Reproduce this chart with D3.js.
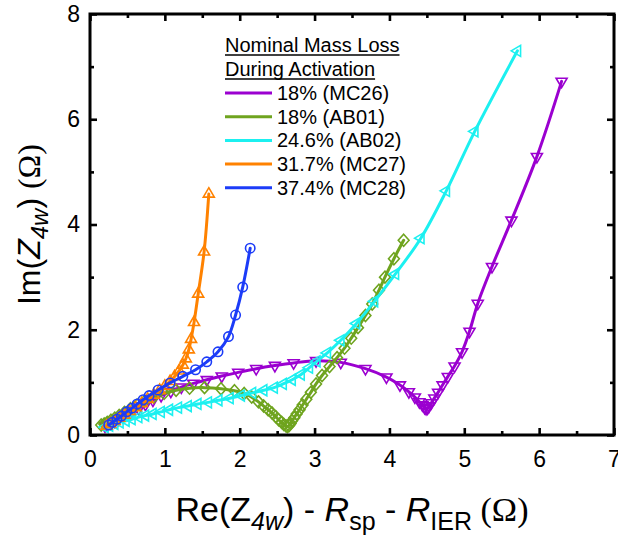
<!DOCTYPE html>
<html><head><meta charset="utf-8">
<script src="https://cdn.jsdelivr.net/npm/d3@7"></script>
<style>
body{margin:0;background:#fff}
svg{display:block}
text{font-family:"Liberation Sans",Arial,sans-serif;fill:#000}
</style>
</head><body>
<svg id="chart" width="618" height="539"></svg>
<script>
// ---------- data ----------
const seriesNames = ["18% (MC26)", "18% (AB01)", "24.6% (AB02)", "31.7% (MC27)", "37.4% (MC28)"];
const seriesColors = ["#9b00d0", "#6fa41f", "#1cf0f0", "#ff8200", "#1c3cf8"];
const seriesSymbols = ["down", "diamond", "left", "up", "circle"];

const mc26X = [0.20,0.24,0.28,0.33,0.38,0.44,0.50,0.57,0.65,0.74,0.84,0.95,1.08,1.22,1.38,1.56,1.76,1.98,2.22,2.47,2.72,3.02,3.35,3.68,3.96,4.14,4.26,4.34,4.40,4.44,4.47,4.49,4.51,4.53,4.56,4.60,4.65,4.71,4.78,4.87,4.97,5.07,5.18,5.37,5.63,5.97,6.30];
const mc26Y = [0.17,0.20,0.23,0.26,0.30,0.35,0.39,0.44,0.50,0.58,0.66,0.75,0.83,0.91,0.98,1.05,1.12,1.19,1.26,1.32,1.37,1.41,1.38,1.26,1.10,0.95,0.82,0.72,0.63,0.57,0.52,0.50,0.51,0.55,0.61,0.70,0.81,0.95,1.11,1.31,1.58,1.97,2.50,3.20,4.08,5.29,6.72];

const ab01X = [0.15,0.19,0.23,0.28,0.33,0.39,0.46,0.54,0.63,0.73,0.85,0.99,1.15,1.33,1.53,1.75,1.93,2.06,2.16,2.25,2.32,2.38,2.43,2.48,2.52,2.56,2.59,2.62,2.64,2.66,2.68,2.70,2.73,2.76,2.80,2.84,2.89,2.95,3.02,3.10,3.20,3.30,3.40,3.49,3.58,3.68,3.77,3.86,3.94,4.06,4.19];
const ab01Y = [0.19,0.21,0.24,0.28,0.32,0.37,0.43,0.50,0.57,0.64,0.72,0.79,0.85,0.89,0.90,0.88,0.84,0.79,0.72,0.63,0.55,0.48,0.42,0.35,0.29,0.24,0.20,0.17,0.16,0.18,0.22,0.27,0.33,0.40,0.48,0.57,0.68,0.81,0.97,1.13,1.30,1.47,1.65,1.84,2.04,2.27,2.49,2.75,3.00,3.35,3.70];

const ab02X = [0.20,0.26,0.33,0.40,0.48,0.56,0.65,0.74,0.84,0.95,1.06,1.18,1.31,1.44,1.58,1.72,1.87,2.02,2.17,2.32,2.46,2.58,2.70,2.82,2.93,3.03,3.17,3.35,3.56,3.80,4.08,4.42,4.76,5.14,5.71];
const ab02Y = [0.15,0.18,0.21,0.24,0.27,0.30,0.34,0.37,0.40,0.44,0.48,0.52,0.55,0.59,0.62,0.66,0.70,0.75,0.80,0.85,0.90,0.97,1.05,1.15,1.28,1.40,1.56,1.80,2.12,2.54,3.06,3.74,4.64,5.77,7.30];

const mc27X = [0.22,0.27,0.33,0.39,0.46,0.53,0.61,0.69,0.77,0.85,0.93,1.00,1.07,1.13,1.19,1.24,1.28,1.32,1.35,1.39,1.445,1.524,1.587];
const mc27Y = [0.17,0.21,0.26,0.32,0.38,0.45,0.52,0.60,0.68,0.76,0.85,0.93,1.02,1.11,1.22,1.33,1.45,1.62,1.82,2.14,2.68,3.48,4.58];

const mc28X = [0.25,0.30,0.36,0.42,0.49,0.56,0.63,0.71,0.79,0.91,1.07,1.24,1.41,1.56,1.71,1.85,1.945,2.04,2.14];
const mc28Y = [0.19,0.24,0.30,0.36,0.44,0.51,0.59,0.67,0.75,0.855,0.99,1.115,1.24,1.39,1.58,1.87,2.28,2.81,3.55];

const seriesX = [mc26X, ab01X, ab02X, mc27X, mc28X];
const seriesY = [mc26Y, ab01Y, ab02Y, mc27Y, mc28Y];

const xTicks = [0,1,2,3,4,5,6,7];
const xMinorTicks = [0.5,1.5,2.5,3.5,4.5,5.5,6.5];
const yTicks = [0,2,4,6,8];
const yMinorTicks = [1,3,5,7];
const legendTitle = ["Nominal Mass Loss", "During Activation"];

// ---------- layout ----------
const L = 90, R = 614, T = 14, B = 435;
const svg = d3.select("#chart");

const x = d3.scaleLinear().domain([0,7]).range([L,R]);
const y = d3.scaleLinear().domain([0,8]).range([B,T]);

const plot = svg.append("g");
const line = d3.line().x(d=>x(d[0])).y(d=>y(d[1])).curve(d3.curveCatmullRom.alpha(0.5));

function symbolPath(kind){
  const w = 5.5, h = 9.4;
  switch(kind){
    case "up": return `M0,${-2*h/3}L${w},${h/3}L${-w},${h/3}Z`;
    case "down": return `M0,${2*h/3}L${w},${-h/3}L${-w},${-h/3}Z`;
    case "left": return `M${-2*h/3},0L${h/3},${-w}L${h/3},${w}Z`;
    case "diamond": return `M0,-6L5.4,0L0,6L-5.4,0Z`;
    default: return null;
  }
}

seriesNames.forEach((name,i)=>{
  const pts = seriesX[i].map((v,k)=>[v, seriesY[i][k]]);
  const g = plot.append("g");
  g.append("path").datum(pts).attr("d", line)
    .attr("fill","none").attr("stroke", seriesColors[i]).attr("stroke-width",3)
    .attr("stroke-linejoin","round").attr("stroke-linecap","round");
  const m = g.selectAll(".m").data(pts).enter();
  if (seriesSymbols[i] === "circle"){
    m.append("circle").attr("cx",d=>x(d[0])).attr("cy",d=>y(d[1])).attr("r",4.7)
      .attr("fill","none").attr("stroke",seriesColors[i]).attr("stroke-width",1.6);
  } else {
    const p = symbolPath(seriesSymbols[i]);
    m.append("path").attr("d",p).attr("transform",d=>`translate(${x(d[0])},${y(d[1])})`)
      .attr("fill","none").attr("stroke",seriesColors[i]).attr("stroke-width",1.6)
      .attr("stroke-linejoin","miter");
  }
});

function styleAxis(g){
  g.select(".domain").remove();
  g.selectAll(".tick line").attr("stroke","#000").attr("stroke-width",2.6);
  g.selectAll(".tick text").attr("font-size",23).attr("font-family","Liberation Sans, Arial, sans-serif").attr("fill","#000");
}
svg.append("g").attr("transform",`translate(0,${B})`)
  .call(d3.axisBottom(x).tickValues(xTicks).tickSizeInner(-7).tickSizeOuter(0).tickPadding(16).tickFormat(d3.format("d")))
  .call(styleAxis);
svg.append("g").attr("transform",`translate(0,${B})`)
  .call(d3.axisBottom(x).tickValues(xMinorTicks).tickSizeInner(-4).tickSizeOuter(0).tickFormat(""))
  .call(styleAxis);
svg.append("g").attr("transform",`translate(0,${T})`)
  .call(d3.axisTop(x).tickValues(xTicks).tickSizeInner(-7).tickSizeOuter(0).tickFormat(""))
  .call(styleAxis);
svg.append("g").attr("transform",`translate(0,${T})`)
  .call(d3.axisTop(x).tickValues(xMinorTicks).tickSizeInner(-4).tickSizeOuter(0).tickFormat(""))
  .call(styleAxis);
svg.append("g").attr("transform",`translate(${L},0)`)
  .call(d3.axisLeft(y).tickValues(yTicks).tickSizeInner(-7).tickSizeOuter(0).tickPadding(10).tickFormat(d3.format("d")))
  .call(styleAxis);
svg.append("g").attr("transform",`translate(${L},0)`)
  .call(d3.axisLeft(y).tickValues(yMinorTicks).tickSizeInner(-4).tickSizeOuter(0).tickFormat(""))
  .call(styleAxis);
svg.append("g").attr("transform",`translate(${R},0)`)
  .call(d3.axisRight(y).tickValues(yTicks).tickSizeInner(-7).tickSizeOuter(0).tickFormat(""))
  .call(styleAxis);
svg.append("g").attr("transform",`translate(${R},0)`)
  .call(d3.axisRight(y).tickValues(yMinorTicks).tickSizeInner(-4).tickSizeOuter(0).tickFormat(""))
  .call(styleAxis);

svg.append("rect").attr("x",L).attr("y",T).attr("width",R-L).attr("height",B-T)
  .attr("fill","none").attr("stroke","#000").attr("stroke-width",3);

// axis titles
const xt = svg.append("text").attr("x",(L+R)/2).attr("y",521).attr("text-anchor","middle").attr("font-size",34);
xt.append("tspan").text("Re(Z");
xt.append("tspan").attr("font-size",25).attr("font-style","italic").attr("dy",9).text("4w");
xt.append("tspan").attr("dy",-9).text(") - ");
xt.append("tspan").attr("font-style","italic").text("R");
xt.append("tspan").attr("font-size",25).attr("dy",9).text("sp");
xt.append("tspan").attr("dy",-9).text(" - ");
xt.append("tspan").attr("font-style","italic").text("R");
xt.append("tspan").attr("font-size",25).attr("dy",9).text("IER");
xt.append("tspan").attr("dy",-9).attr("font-family","Liberation Serif, serif").text(" (Ω)");

const yt = svg.append("text").attr("transform",`translate(40,${(T+B)/2}) rotate(-90)`)
  .attr("text-anchor","middle").attr("font-size",32);
yt.append("tspan").text("Im(");
yt.append("tspan").attr("font-style","italic").text("Z");
yt.append("tspan").attr("font-size",24).attr("font-style","italic").attr("dy",8).text("4w");
yt.append("tspan").attr("dy",-8).text(") ");
yt.append("tspan").attr("font-family","Liberation Serif, serif").text("(Ω)");

// legend
const lg = svg.append("g");
legendTitle.forEach((t,i)=>{
  const tx = lg.append("text").attr("x",225).attr("y",52+i*24).attr("font-size",20).text(t);
  const len = tx.node().getComputedTextLength();
  lg.append("line").attr("x1",225).attr("x2",225+len).attr("y1",52+i*24+3).attr("y2",52+i*24+3)
    .attr("stroke","#000").attr("stroke-width",1.5);
});
seriesNames.forEach((n,i)=>{
  const by = 100 + i*23.7;
  lg.append("line").attr("x1",225).attr("x2",272).attr("y1",by-7).attr("y2",by-7)
    .attr("stroke",seriesColors[i]).attr("stroke-width",3);
  lg.append("text").attr("x",277).attr("y",by).attr("font-size",20).text(n);
});
</script>
</body></html>
